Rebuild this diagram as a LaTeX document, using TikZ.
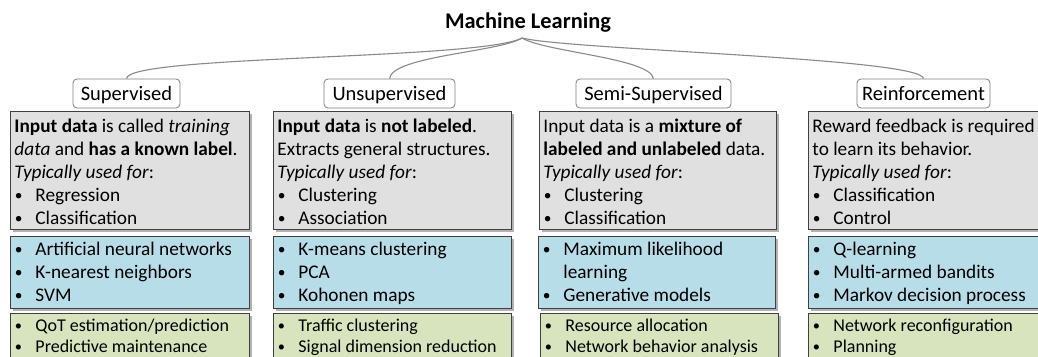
\documentclass[tikz,border=0pt]{standalone}
\usepackage{fontspec}
\setmainfont{Carlito}
\usetikzlibrary{shadows}
\definecolor{bdr}{HTML}{404040}
\definecolor{gbox}{HTML}{E0E0E0}
\definecolor{bbox}{HTML}{B7DDE8}
\definecolor{grbox}{HTML}{D7E4BD}
\definecolor{labd}{HTML}{7F7F7F}
\definecolor{lnc}{HTML}{8A8A8A}
\newcommand\mybody[3]{\begin{minipage}[t]{#1}\fontsize{#2}{#3}\selectfont\raggedright}
\newcommand\myend{\end{minipage}}
\newcommand\bi[1]{\par\hangindent=21pt\hangafter=1\noindent\makebox[21pt][l]{\hspace{0.5pt}\raisebox{0.8pt}{\scalebox{0.8}{\textbullet}}}\mbox{#1}}
\newcommand\myline[1]{\mbox{#1}\newline}
\tikzset{
  boxbase/.style={draw=bdr, line width=0.9pt, inner xsep=4pt, inner ysep=0pt, anchor=north west,
    drop shadow={shadow xshift=2.5pt, shadow yshift=-2.5pt, fill=black, opacity=0.3}},
  graybox/.style={boxbase, fill=gbox, text height=20.7pt, text depth=97.3pt},
  bluebox/.style={boxbase, fill=bbox, text height=19pt, text depth=53pt},
  greenbox/.style={boxbase, fill=grbox, text height=18pt, text depth=50pt},
  lab/.style={draw=labd, fill=white, rounded corners=4pt, line width=0.8pt, minimum height=29pt,
    text height=17pt, text depth=4pt,
    inner xsep=3pt, inner ysep=0pt, font=\fontsize{20.5}{24}\selectfont},
  conn/.style={draw=lnc, line width=1.1pt},
}
\begin{document}
\begin{tikzpicture}[x=1pt,y=-1pt]
\useasboundingbox (0,0) rectangle (1038,356);
\fill[white] (0,0) rectangle (1038,356);
\clip (0,0) rectangle (1038,356);

\node[font=\bfseries\fontsize{22.4}{26}\selectfont, anchor=base, inner sep=0pt] (ml) at (528,28) {Machine Learning};
\coordinate (apex) at (522,38);

\node[lab, minimum width=107pt] (sup) at (126.5,93.5) {Supervised};
\node[lab, minimum width=131pt] (uns) at (389.5,93.5) {Unsupervised};
\node[lab, minimum width=155pt] (semi) at (653.5,93.5) {Semi-Supervised};
\node[lab, minimum width=133pt] (rein) at (923.5,93.5) {Reinforcement};

\draw[conn] (apex) .. controls (480,60) and (127,55) .. (sup.north);
\draw[conn] (apex) .. controls (500,52) and (392,56) .. (uns.north);
\draw[conn] (apex) .. controls (545,52) and (650,58) .. (semi.north);
\draw[conn] (apex) .. controls (570,50) and (922,58) .. (rein.north);

% gray boxes
\node[graybox] (g1) at (10,111) {\mybody{231pt}{19.3}{23}%
\myline{\textbf{Input data} is called \textit{training}}%
\myline{\textit{data} and \textbf{has a known label}.}%
\mbox{\textit{Typically used for}:}
\bi{Regression}
\bi{Classification}\myend};
\node[graybox] (g2) at (273,111) {\mybody{230pt}{19.3}{23}%
\myline{\textbf{Input data} is \textbf{not labeled}.}%
\myline{Extracts general structures.}%
\mbox{\textit{Typically used for}:}
\bi{Clustering}
\bi{Association}\myend};
\node[graybox] (g3) at (539,111) {\mybody{229pt}{19.3}{23}%
\myline{Input data is a \textbf{mixture of}}%
\myline{\textbf{labeled and unlabeled} data.}%
\mbox{\textit{Typically used for}:}
\bi{Clustering}
\bi{Classification}\myend};
\node[graybox] (g4) at (808,111) {\mybody{240pt}{19.3}{23}%
\myline{Reward feedback is required}%
\myline{to learn its behavior.}%
\mbox{\textit{Typically used for}:}
\bi{Classification}
\bi{Control}\myend};

% blue boxes
\node[bluebox] (b1) at (10,236) {\mybody{231pt}{19.3}{23}%
\bi{Artificial neural networks}
\bi{K-nearest neighbors}
\bi{SVM}\myend};
\node[bluebox] (b2) at (273,236) {\mybody{230pt}{19.3}{23}%
\bi{K-means clustering}
\bi{PCA}
\bi{Kohonen maps}\myend};
\node[bluebox] (b3) at (538,236) {\mybody{229pt}{19.3}{23}%
\bi{Maximum likelihood}\newline\mbox{learning}
\bi{Generative models}\myend};
\node[bluebox] (b4) at (808,236) {\mybody{240pt}{19.3}{23}%
\bi{Q-learning}
\bi{Multi-armed bandits}
\bi{Markov decision process}\myend};

% green boxes
\node[greenbox] (n1) at (10,313) {\mybody{231pt}{18}{21}%
\bi{QoT estimation/prediction}
\bi{Predictive maintenance}\myend};
\node[greenbox] (n2) at (273,313) {\mybody{230pt}{18}{21}%
\bi{Traffic clustering}
\bi{Signal dimension reduction}\myend};
\node[greenbox] (n3) at (540,313) {\mybody{230pt}{18}{21}%
\bi{Resource allocation}
\bi{Network behavior analysis}\myend};
\node[greenbox] (n4) at (808,313) {\mybody{240pt}{18}{21}%
\bi{Network reconfiguration}
\bi{Planning}\myend};
\end{tikzpicture}
\end{document}
